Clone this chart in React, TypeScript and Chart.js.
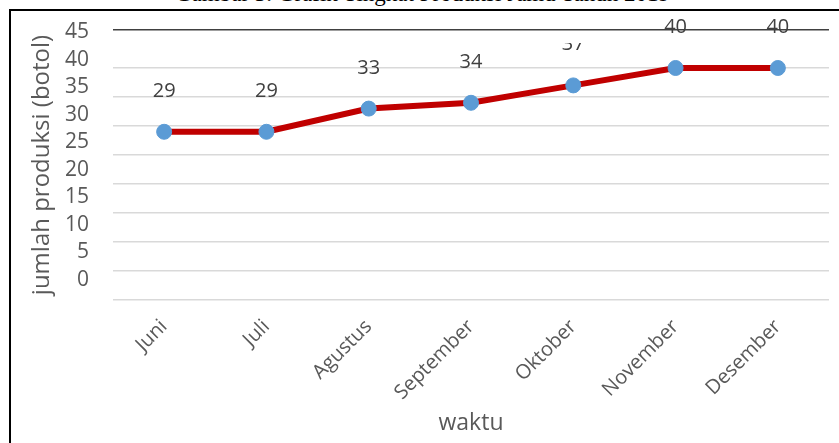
import React, { useEffect, useRef } from "react";
import { Chart, registerables } from "chart.js";

Chart.register(...registerables);

// ---- data ----
const categories = ["Juni", "Juli", "Agustus", "September", "Oktober", "November", "Desember"];
const production = [29, 29, 33, 34, 37, 40, 40];
const yTickLabels = [0, 5, 10, 15, 20, 25, 30, 35, 40, 45];
const gridValues = [0, 5, 10, 15, 20, 25, 30, 35, 40];
const yMax = 46.55;
const labelAxisMin = -3.64;
const labelAxisMax = 45.45;
const caption = "Gambar 3. Grafik Tingkat Produksi Jamu Tahun 2019";
const yTitle = "jumlah produksi (botol)";
const xTitle = "waktu";
const clippedLabelIndex = 4;
const clippedLabelTop = 43;

const FONT = "'Open Sans', 'Noto Sans', sans-serif";

const valueLabels = {
  id: "valueLabels",
  afterDatasetsDraw(chart: any) {
    const ctx = chart.ctx;
    const meta = chart.getDatasetMeta(0);
    const data = chart.data.datasets[0].data as number[];
    ctx.save();
    ctx.font = `20px ${FONT}`;
    ctx.fillStyle = "#404040";
    ctx.textAlign = "center";
    ctx.textBaseline = "alphabetic";
    meta.data.forEach((pt: any, i: number) => {
      ctx.save();
      if (i === clippedLabelIndex) {
        ctx.beginPath();
        ctx.rect(0, clippedLabelTop, chart.width, chart.height);
        ctx.clip();
      }
      ctx.fillText(String(data[i]), pt.x, pt.y - 35);
      ctx.restore();
    });
    ctx.restore();
  },
};

const noVerticalPadding = (s: any) => {
  s.paddingTop = 0;
  s.paddingBottom = 0;
};

export default function App() {
  const canvasRef = useRef<HTMLCanvasElement | null>(null);

  useEffect(() => {
    const canvas = canvasRef.current;
    if (!canvas) return;
    const chart = new Chart(canvas, {
      type: "line",
      data: {
        labels: categories,
        datasets: [
          {
            label: "produksi",
            data: production,
            borderColor: "#C00000",
            borderWidth: 6,
            tension: 0,
            pointRadius: 7.5,
            pointBackgroundColor: "#5B9BD5",
            pointBorderColor: "#5B9BD5",
            pointBorderWidth: 1,
            fill: false,
          },
        ],
      },
      options: {
        animation: false,
        responsive: false,
        maintainAspectRatio: false,
        devicePixelRatio: 1,
        layout: { padding: { left: 0, right: 10, top: 30, bottom: 0 } },
        plugins: {
          legend: { display: false },
          tooltip: { enabled: false },
          title: { display: false },
        },
        scales: {
          x: {
            type: "category",
            offset: true,
            grid: { display: false, drawTicks: false },
            border: { display: false },
            ticks: {
              color: "#595959",
              font: { family: FONT, size: 20 },
              minRotation: 45,
              maxRotation: 45,
              padding: 15,
              autoSkip: false,
            },
            title: {
              display: true,
              text: xTitle,
              color: "#595959",
              font: { family: FONT, size: 23 },
              padding: { top: 0, bottom: 6 },
            },
            afterFit: (s: any) => {
              s.height = 143;
            },
          },
          y: {
            position: "left",
            weight: 0,
            min: 0,
            max: yMax,
            afterBuildTicks: (s: any) => {
              s.ticks = [...gridValues, yMax].map((v) => ({ value: v }));
            },
            ticks: { display: false },
            grid: {
              color: (c: any) => (c.tick && c.tick.value === yMax ? "#404040" : "#d9d9d9"),
              lineWidth: 1.5,
              drawTicks: false,
            },
            border: { display: false },
            afterFit: (s: any) => {
              s.width = 0;
              noVerticalPadding(s);
            },
          },
          yLab: {
            type: "linear",
            position: "left",
            weight: 10,
            min: labelAxisMin,
            max: labelAxisMax,
            afterBuildTicks: (s: any) => {
              s.ticks = yTickLabels.map((v) => ({ value: v }));
            },
            grid: { display: false, drawTicks: false },
            border: { display: false },
            ticks: {
              color: "#595959",
              font: { family: FONT, size: 21 },
              padding: 24,
            },
            title: {
              display: true,
              text: yTitle,
              color: "#595959",
              font: { family: FONT, size: 24 },
              padding: { top: 28, bottom: 0 },
            },
            afterFit: (s: any) => {
              s.width = 113;
              noVerticalPadding(s);
            },
          },
        },
      } as any,
      plugins: [valueLabels],
    });
    return () => chart.destroy();
  }, []);

  return (
    <div
      style={{
        position: "absolute",
        left: 0,
        top: 0,
        width: 839,
        height: 443,
        background: "#ffffff",
        overflow: "hidden",
      }}
    >
      <span
        style={{
          position: "absolute",
          left: 175,
          top: -18.5,
          fontFamily: "'Liberation Serif', 'Times New Roman', serif",
          fontSize: 23,
          lineHeight: "23px",
          color: "#000",
          whiteSpace: "nowrap",
        }}
      >
        {caption}
      </span>
      <div
        style={{
          position: "absolute",
          left: 9,
          top: 9,
          width: 830,
          height: 434,
          boxSizing: "border-box",
          borderLeft: "2px solid #000",
          borderTop: "2px solid #000",
        }}
      />
      <canvas
        ref={canvasRef}
        width={839}
        height={443}
        style={{ position: "absolute", left: 0, top: 0, width: 839, height: 443 }}
      />
    </div>
  );
}
